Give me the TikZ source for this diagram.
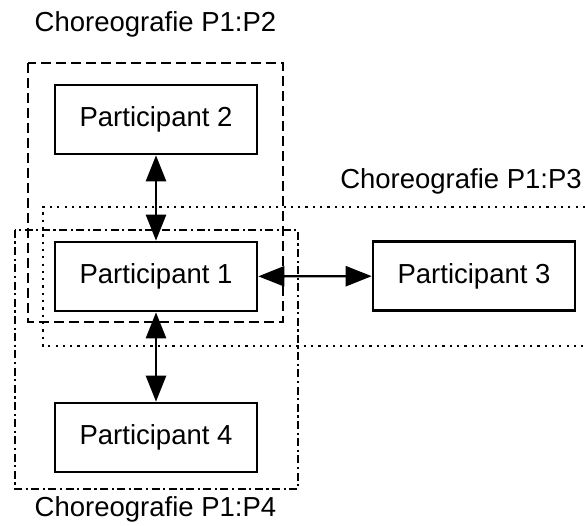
\documentclass[tikz,border=0pt]{standalone}
\usepackage{fontspec}
\setmainfont{Liberation Sans}
\usetikzlibrary{arrows.meta}
\begin{document}
\begin{tikzpicture}[x=1pt,y=-1pt,
  font=\fontsize{27.5}{33}\selectfont,
  participant/.style={draw,line width=2.6pt,minimum width=202pt,minimum height=69pt,inner sep=0pt},
  link/.style={line width=2.4pt,{Triangle[length=26pt,width=20pt]}-{Triangle[length=26pt,width=20pt]}},
  grpdash/.style={line width=2.4pt,dash pattern=on 10pt off 5pt},
  grpdot/.style={line width=2.4pt,dash pattern=on 2.2pt off 5.1pt},
  grpdashdot/.style={line width=2.4pt,dash pattern=on 8pt off 3.5pt on 2.2pt off 3.5pt},
  grplabel/.style={anchor=base,inner sep=0pt}]
\useasboundingbox (0,0) rectangle (585,526);

% choreography groups
\draw[grpdash] (28,63) rectangle (283,322);
\draw[grpdot] (585,207) -- (43,207) -- (43,346) -- (585,346);
\draw[grpdashdot] (15,230) rectangle (298,489);

% participants
\node[participant] (p2) at (156,119.5) {Participant 2};
\node[participant] (p1) at (156,276.5) {Participant 1};
\node[participant] (p4) at (156,437.5) {Participant 4};
\node[participant] (p3) at (474,276) {Participant 3};

% interactions
\draw[link] (p2) -- (p1);
\draw[link] (p1) -- (p4);
\draw[link] (p1) -- (p3);

% group labels
\node[grplabel] (l12) at (155.5,32) {Choreografie P1:P2};
\node[grplabel,anchor=base east] (l13) at (582,189) {Choreografie P1:P3};
\node[grplabel] (l14) at (155.5,516) {Choreografie P1:P4};
\end{tikzpicture}
\end{document}
